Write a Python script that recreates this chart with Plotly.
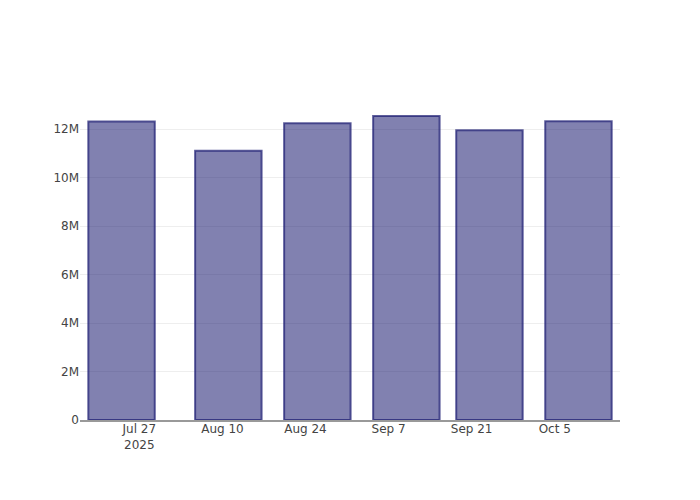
import plotly.graph_objects as go

dates = ["2025-07-24", "2025-08-11", "2025-08-26", "2025-09-10", "2025-09-24", "2025-10-09"]
values = [12310000, 11110000, 12240000, 12540000, 11950000, 12320000]

fig = go.Figure(
    go.Bar(
        x=dates,
        y=values,
        marker=dict(color="rgba(25,25,112,0.55)",
                    line=dict(color="rgba(25,25,112,0.7)", width=2)),
    )
)

fig.update_layout(
    paper_bgcolor="white",
    plot_bgcolor="white",
    margin=dict(l=72, r=72, t=92, b=72),
    font=dict(color="#444", family="DejaVu Sans", size=12),
    showlegend=False,
)
fig.update_xaxes(
    type="date",
    range=["2025-07-17", "2025-10-16"],
    showgrid=False,
    showline=True,
    linecolor="#999",
    linewidth=1.5,
    ticklabelstandoff=-3,
    dtick=14 * 24 * 3600 * 1000,
    tick0="2025-07-27",
    tickformat="%b %-d\n%Y",
)
fig.update_yaxes(
    showgrid=True,
    gridcolor="#eee",
    zeroline=False,
    tickformat="~s",
)
fig.write_html("out.html")
